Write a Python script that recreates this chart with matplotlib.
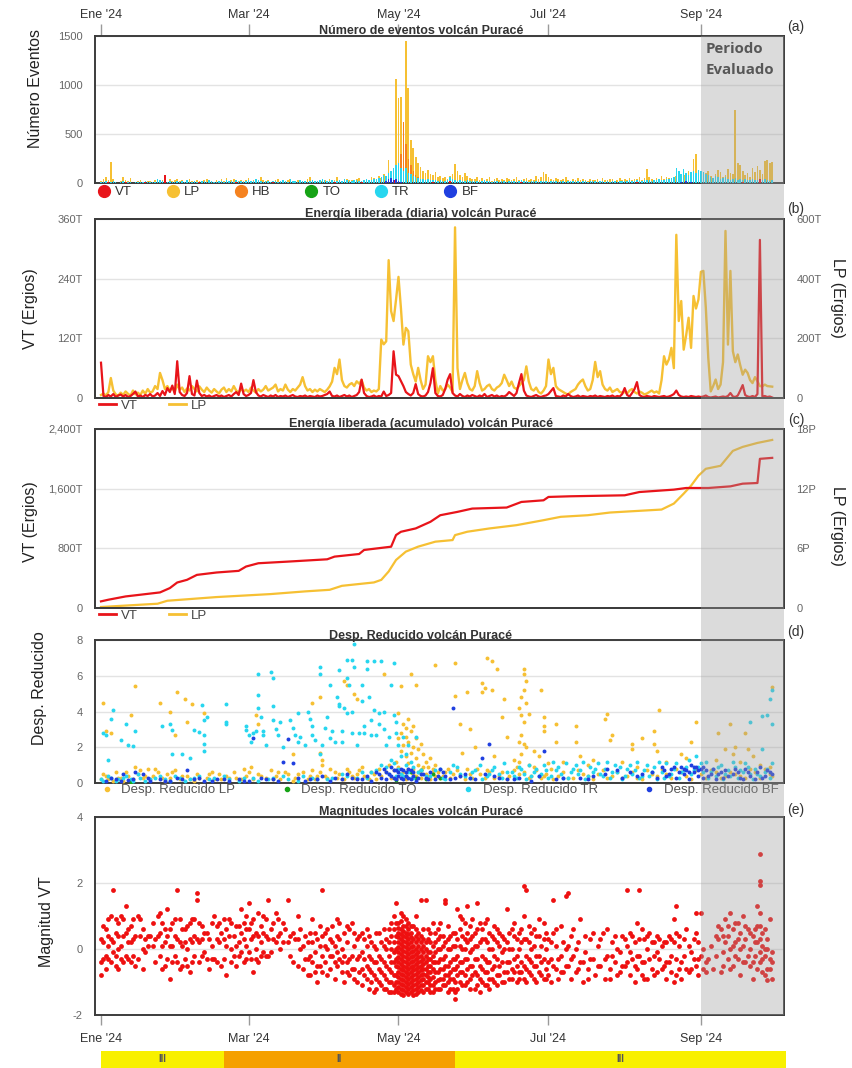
import matplotlib
matplotlib.use("Agg")
import matplotlib.pyplot as plt
from matplotlib.lines import Line2D
from matplotlib.patches import Rectangle
import numpy as np

plt.rcParams['font.family'] = ['Liberation Sans', 'DejaVu Sans']
NARROW = ['Liberation Sans Narrow', 'Liberation Sans', 'DejaVu Sans']

# ---------------------------------------------------------------- data
month_ticks = [0, 60, 121, 182, 244]          # day of year (Jan 1 = 0)
month_labels = ["Ene '24", "Mar '24", "May '24", "Jul '24", "Sep '24"]
period_start = 244                             # Sep 1 -> "Periodo Evaluado"

type_names = ['VT', 'LP', 'HB', 'TO', 'TR', 'BF']
type_colors = ['#e8141a', '#f6c033', '#f58220', '#16a316', '#27d6ef', '#1f3fe0']

# (a) daily event counts, Jan 1 .. Sep 30
lp_counts = [
    20, 45, 60, 30, 210, 40, 15, 10, 25, 60, 35, 20, 50, 15, 10, 20, 30, 15, 10, 25, 20, 15, 30, 10, 20, 35, 20, 15, 40, 25, 30,
    45, 20, 30, 15, 25, 40, 20, 10, 35, 20, 15, 30, 45, 20, 25, 15, 30, 20, 40, 25, 50, 20, 30, 45, 15, 25, 35, 20, 30,
    55, 25, 30, 40, 20, 60, 30, 25, 35, 15, 20, 30, 40, 25, 20, 15, 30, 45, 25, 20, 35, 30, 15, 25, 40, 60, 30, 20, 25, 35, 20,
    30, 25, 40, 20, 35, 60, 30, 25, 20, 45, 30, 35, 20, 40, 55, 25, 30, 45, 35, 60, 50, 40, 70, 55, 90, 60, 230, 100, 150, 1060,
    870, 880, 350, 1450, 970, 440, 360, 270, 200, 160, 120, 100, 130, 90, 80, 110, 60, 70, 50, 60, 45, 70, 90, 190, 120, 80, 60, 100, 70, 50, 40,
    40, 60, 35, 50, 30, 45, 60, 25, 40, 55, 30, 45, 35, 50, 40, 30, 45, 60, 35, 25, 40, 55, 30, 45, 35, 70, 40, 60, 110, 90,
    60, 45, 35, 50, 40, 30, 45, 60, 35, 25, 40, 30, 50, 35, 40, 30, 25, 45, 35, 30, 40, 25, 50, 35, 30, 45, 40, 25, 35, 50, 30,
    40, 35, 50, 30, 45, 40, 60, 35, 50, 140, 60, 45, 35, 50, 40, 70, 45, 60, 50, 40, 55, 70, 60, 50, 80, 100, 120, 90, 250, 300, 120,
    80, 60, 100, 120, 70, 50, 90, 130, 110, 60, 80, 140, 100, 90, 740, 200, 180, 120, 80, 100, 60, 150, 110, 170, 130, 90, 220, 230, 200, 210,
]
tr_counts = [
    10, 15, 20, 8, 12, 25, 10, 5, 15, 20, 10, 8, 12, 5, 10, 15, 8, 10, 20, 12, 10, 8, 15, 40, 30, 20, 15, 10, 20, 15, 10,
    25, 15, 20, 10, 30, 15, 12, 20, 10, 15, 25, 20, 15, 30, 20, 10, 15, 25, 20, 15, 30, 25, 20, 15, 35, 20, 25, 15, 20,
    30, 25, 20, 45, 30, 20, 15, 25, 20, 15, 20, 25, 15, 20, 30, 20, 15, 40, 25, 20, 15, 30, 20, 25, 15, 20, 35, 25, 20, 30, 40,
    30, 25, 20, 35, 25, 20, 30, 25, 40, 30, 20, 25, 35, 30, 20, 25, 30, 40, 35, 30, 45, 40, 50, 60, 80, 70, 100, 120, 150, 180,
    200, 150, 120, 150, 100, 90, 70, 60, 50, 45, 40, 35, 40, 30, 35, 30, 25, 30, 20, 25, 30, 60, 40, 30, 25, 30, 20, 25, 30, 20, 25,
    20, 25, 15, 20, 30, 25, 20, 15, 25, 20, 15, 20, 25, 15, 20, 25, 20, 15, 20, 30, 25, 20, 15, 20, 25, 20, 15, 20, 25, 20,
    15, 20, 25, 20, 15, 20, 25, 15, 20, 25, 20, 15, 20, 15, 25, 20, 15, 20, 25, 20, 15, 20, 25, 15, 20, 15, 25, 20, 15, 20, 25,
    20, 25, 30, 20, 25, 30, 25, 20, 30, 35, 30, 25, 30, 35, 40, 30, 35, 40, 45, 50, 60, 150, 120, 90, 140, 100, 80, 110, 120, 100, 130,
    120, 110, 90, 80, 60, 50, 70, 60, 40, 50, 60, 40, 30, 45, 50, 35, 40, 30, 45, 35, 30, 40, 35, 30, 40, 35, 45, 30, 25, 30,
]
hb_days = [120, 121, 122, 123, 124, 125, 126, 127, 128, 129, 130]
hb_counts = [60, 150, 300, 620, 400, 250, 180, 120, 80, 60, 40]
vt_days = [3, 10, 18, 26, 40, 55, 70, 95, 106, 119, 120, 121, 135, 142, 171, 218, 261, 268]
vt_counts = [8, 10, 6, 80, 12, 8, 6, 10, 15, 30, 25, 20, 15, 18, 12, 10, 12, 40]
bf_days = [116, 117, 118, 119, 120, 121, 122, 236, 238, 240]
bf_counts = [20, 45, 50, 35, 40, 25, 15, 15, 20, 15]

# (b) daily released energy (T ergios)
vt_energy = [
    71, 4, 2, 6, 3, 8, 2, 5, 7, 3, 6, 2, 4, 8, 13, 3, 5, 2, 6, 4, 8, 3, 5, 10, 4, 14, 6, 20, 12, 25, 8,
    74, 12, 6, 4, 10, 44, 8, 5, 35, 10, 4, 6, 3, 5, 2, 4, 6, 3, 5, 2, 4, 6, 3, 8, 12, 6, 29, 8, 4,
    6, 10, 36, 12, 5, 3, 6, 4, 2, 5, 3, 6, 2, 4, 3, 5, 2, 4, 6, 3, 2, 4, 3, 5, 2, 4, 3, 2, 5, 3, 4,
    6, 8, 13, 4, 3, 5, 2, 4, 6, 3, 5, 2, 4, 6, 12, 37, 10, 4, 2, 3, 5, 2, 4, 3, 13, 4, 6, 10, 94, 47,
    44, 34, 24, 12, 8, 5, 10, 28, 8, 4, 3, 5, 12, 30, 60, 10, 4, 3, 6, 18, 37, 48, 10, 5, 3, 8, 4, 2, 5, 3, 6,
    4, 2, 5, 3, 8, 2, 4, 6, 3, 5, 2, 4, 3, 6, 12, 8, 4, 10, 30, 48, 15, 5, 3, 2, 4, 6, 3, 2, 4, 5,
    8, 14, 20, 4, 3, 2, 5, 3, 8, 4, 2, 3, 5, 2, 4, 3, 2, 4, 3, 5, 2, 4, 3, 2, 4, 3, 5, 2, 4, 3, 8,
    20, 6, 3, 10, 18, 32, 6, 3, 2, 4, 3, 2, 4, 3, 2, 3, 4, 2, 3, 5, 8, 15, 6, 3, 2, 3, 2, 4, 3, 2, 3,
    2, 3, 5, 2, 1, 2, 3, 1, 2, 3, 2, 4, 10, 3, 2, 5, 15, 26, 6, 3, 2, 4, 2, 8, 318, 3, 4, 2, 3, 1,
]
lp_energy = [
    10, 15, 8, 20, 67, 25, 12, 8, 18, 10, 22, 14, 8, 25, 12, 18, 10, 25, 14, 30, 18, 22, 40, 30, 84, 60, 30, 40, 25, 35, 20,
    45, 28, 35, 20, 32, 25, 40, 30, 22, 39, 28, 20, 35, 25, 18, 30, 22, 15, 28, 35, 20, 30, 22, 40, 25, 18, 30, 22, 28,
    20, 35, 25, 18, 30, 22, 28, 40, 25, 30, 35, 45, 22, 30, 25, 45, 28, 20, 30, 25, 35, 45, 70, 40, 25, 30, 20, 28, 22, 30, 25,
    20, 28, 39, 55, 101, 80, 129, 60, 40, 35, 45, 50, 40, 56, 48, 60, 35, 25, 30, 20, 25, 22, 30, 196, 180, 190, 462, 291, 258, 330,
    406, 300, 179, 235, 224, 112, 80, 55, 101, 60, 30, 45, 140, 120, 140, 60, 15, 40, 25, 30, 45, 35, 20, 572, 100, 30, 60, 84, 50, 30, 25,
    40, 90, 50, 25, 30, 40, 45, 30, 25, 35, 40, 50, 78, 60, 40, 55, 35, 30, 40, 50, 60, 106, 55, 30, 25, 35, 20, 15, 25, 40,
    129, 80, 101, 40, 30, 25, 20, 15, 12, 20, 25, 30, 45, 55, 62, 40, 25, 30, 60, 121, 70, 90, 45, 30, 25, 35, 20, 25, 30, 20, 18,
    20, 15, 25, 30, 20, 15, 22, 18, 12, 15, 20, 25, 18, 22, 15, 60, 140, 112, 130, 168, 100, 547, 258, 325, 162, 210, 269, 168, 342, 300, 330,
    423, 426, 303, 135, 22, 40, 62, 30, 45, 120, 560, 179, 426, 157, 120, 146, 110, 78, 95, 84, 60, 50, 70, 56, 40, 39, 45, 40, 39, 38,
]

# (c) accumulated energy, read at break points
cum_vt_days = [0, 3, 10, 16, 24, 28, 31, 35, 39, 47, 56, 59, 64, 76, 92, 95, 105, 107, 118, 120,
               122, 128, 134, 138, 145, 151, 165, 171, 180, 182, 191, 213, 219, 233, 238, 247, 256, 261, 267, 268, 273]
cum_vt_T = [89, 111, 155, 178, 209, 267, 342, 378, 444, 476, 498, 556, 600, 622, 653, 689, 724, 778, 822, 978,
            1022, 1067, 1156, 1244, 1289, 1333, 1347, 1422, 1444, 1489, 1498, 1511, 1555, 1587, 1609, 1609, 1631, 1667, 1676, 2000, 2013]
cum_lp_days = [0, 23, 27, 47, 69, 83, 93, 98, 111, 114, 117, 120, 124, 129, 136, 143, 144, 149, 158, 169,
               180, 187, 198, 207, 216, 228, 233, 237, 240, 243, 246, 252, 257, 261, 267, 273]
cum_lp_P = [0.1, 0.43, 0.73, 1.1, 1.4, 1.67, 1.83, 2.23, 2.57, 2.83, 3.67, 4.83, 5.67, 6.17, 6.67, 6.83, 7.33, 7.67, 8.0, 8.33,
            8.83, 9.17, 9.33, 9.6, 9.73, 9.9, 10.5, 11.5, 12.3, 13.3, 14.0, 14.3, 15.8, 16.2, 16.6, 16.9]

# (d) reduced displacement (day, value)
dr_lp = [(1, 4.5), (2, 2.9), (4, 2.8), (12, 3.8), (14, 5.4), (24, 4.5), (28, 4.0), (31, 5.1), (34, 4.7), (35, 3.4),
         (30, 2.7), (37, 4.4), (42, 3.9), (44, 0.5), (52, 0.3), (0, 0.2), (2, 0.4), (5, 0.1), (8, 0.3), (10, 0.6),
         (14, 0.9), (16, 0.7), (18, 0.4), (20, 0.2), (22, 0.8), (25, 0.3), (27, 0.5), (29, 0.6), (32, 0.2), (35, 0.4),
         (38, 0.1), (40, 0.3), (46, 0.2), (48, 0.5), (55, 0.3), (58, 0.8), (60, 0.6), (62, 0.2), (63, 3.8), (64, 3.3),
         (86, 4.45), (89, 4.8), (103, 5.0), (104, 4.7), (115, 6.1), (126, 6.1), (128, 5.5), (122, 5.4), (99, 5.7), (100, 5.5),
         (89, 1.7), (90, 1.3), (78, 1.65), (75, 0.6), (65, 0.4), (70, 0.2), (72, 0.6), (78, 0.1), (80, 0.5), (84, 0.2),
         (86, 0.7), (88, 0.4), (90, 1.0), (92, 0.3), (95, 0.6), (98, 0.2), (100, 0.8), (102, 0.4), (104, 0.5), (106, 0.9),
         (108, 0.3), (110, 0.6), (112, 0.2), (114, 0.4), (120, 1.2), (121, 2.5), (121, 3.9), (122, 2.8), (122, 1.8), (123, 3.3),
         (123, 2.1), (124, 3.1), (124, 1.5), (124, 2.6), (125, 3.6), (125, 2.3), (125, 1.1), (126, 2.9), (126, 1.7), (127, 3.2),
         (127, 2.0), (127, 0.8), (128, 2.5), (128, 1.4), (129, 1.9), (129, 1.0), (130, 2.2), (130, 0.7), (131, 1.6), (132, 1.2),
         (133, 0.9), (134, 1.4), (135, 0.6), (136, 1.0), (120, 0.3), (122, 0.5), (124, 0.2), (126, 0.6), (128, 0.4), (130, 0.3),
         (132, 0.5), (134, 0.2), (136, 0.4), (138, 0.3), (140, 0.6), (136, 6.6), (144, 6.7), (157, 7.0), (159, 6.8), (161, 6.4),
         (156, 5.3), (155, 5.6), (155, 5.1), (159, 5.2), (149, 5.1), (144, 4.85), (164, 4.7), (179, 5.2), (172, 6.4), (172, 6.1),
         (173, 5.7), (172, 5.2), (171, 4.8), (173, 4.5), (170, 4.2), (171, 3.8), (174, 3.85), (172, 3.4), (171, 2.7), (170, 2.3),
         (172, 2.2), (173, 2.0), (171, 1.6), (170, 1.2), (174, 1.0), (180, 3.7), (180, 3.2), (180, 2.9), (185, 3.3), (185, 2.3),
         (193, 3.2), (193, 2.3), (206, 3.85), (205, 3.6), (208, 2.7), (207, 2.4), (216, 2.2), (216, 1.9), (220, 2.5), (227, 4.1),
         (225, 2.9), (225, 2.2), (226, 1.8), (242, 3.4), (240, 2.3), (236, 1.6), (238, 1.4), (146, 3.3), (150, 3.0), (152, 2.0),
         (147, 1.7), (160, 1.5), (163, 3.7), (165, 2.6), (168, 1.3), (176, 1.8), (178, 1.5), (182, 1.1), (188, 1.2), (195, 1.5),
         (198, 1.0), (200, 1.3), (212, 1.2), (218, 0.9), (230, 1.2), (251, 2.8), (256, 3.3), (254, 1.9), (258, 2.0), (262, 2.8),
         (263, 1.9), (265, 1.5), (250, 1.3), (257, 1.6), (260, 1.2), (273, 5.35), (272, 0.9), (268, 1.0), (142, 0.3), (145, 0.7),
         (148, 0.2), (150, 0.5), (153, 0.8), (156, 0.3), (158, 0.6), (162, 0.4), (165, 0.2), (168, 0.7), (170, 0.5), (174, 0.3),
         (176, 0.9), (180, 0.4), (184, 0.2), (188, 0.6), (192, 0.3), (196, 0.5), (200, 0.2), (204, 0.7), (208, 0.4), (212, 0.3),
         (216, 0.6), (220, 0.2), (224, 0.5), (228, 0.8), (232, 0.3), (236, 0.6), (240, 0.2), (244, 0.5), (248, 0.7), (252, 0.3),
         (256, 0.6), (260, 0.4), (264, 0.8), (268, 0.3), (272, 0.5)]
dr_lp_base = [(1, 0.5), (3, 0.2), (6, 0.6), (7, 0.3), (9, 0.1), (11, 0.4), (13, 0.2), (15, 0.5), (17, 0.3), (19, 0.8),
              (21, 0.4), (23, 0.6), (26, 0.1), (28, 0.3), (30, 0.7), (33, 0.4), (36, 0.2), (39, 0.5), (43, 0.3), (45, 0.6),
              (49, 0.2), (51, 0.4), (54, 0.6), (57, 0.2), (59, 0.4), (61, 0.9), (64, 0.5), (67, 0.3), (69, 0.7), (71, 0.4),
              (73, 0.2), (76, 0.5), (79, 0.3), (82, 0.6), (85, 0.4), (87, 0.2), (89, 0.6), (91, 0.4), (93, 0.8), (96, 0.3),
              (97, 0.5), (99, 0.2), (101, 0.6), (103, 0.3), (105, 0.7), (107, 0.4), (109, 0.2), (111, 0.5), (113, 0.8), (116, 0.6),
              (117, 1.0), (118, 0.3), (119, 0.7), (121, 0.9), (123, 0.6), (125, 0.8), (127, 0.5), (129, 0.6), (131, 0.9), (133, 0.4),
              (135, 0.8), (137, 0.6), (139, 0.4), (141, 0.8), (143, 0.5), (146, 0.4), (149, 0.8), (151, 0.3), (154, 0.5), (157, 0.7),
              (160, 0.3), (163, 0.6), (166, 0.4), (169, 0.9), (172, 0.6), (175, 0.4), (177, 0.7), (179, 0.3), (181, 0.5), (183, 0.8),
              (186, 0.4), (190, 0.3), (194, 0.7), (198, 0.4), (202, 0.5), (206, 0.3), (210, 0.6), (214, 0.4), (218, 0.3), (222, 0.7),
              (226, 0.4), (230, 0.5), (234, 0.8), (238, 0.4), (242, 0.7), (246, 0.3), (250, 0.6), (254, 0.4), (258, 0.5), (262, 0.3),
              (266, 0.6), (270, 0.8), (273, 0.4)]
dr_to = [(12, 0.05), (120, 0.15), (124, 0.4), (126, 0.6), (128, 0.3), (130, 0.7), (132, 0.2), (135, 0.5), (138, 0.3)]
dr_tr = [(1, 2.8), (2, 2.7), (3, 1.3), (4, 3.6), (5, 4.1), (8, 2.4), (10, 3.3), (11, 2.1), (13, 2.05), (14, 2.9),
         (25, 3.2), (28, 3.3), (29, 2.95), (29, 1.6), (33, 1.6), (36, 1.4), (38, 2.95), (40, 2.85), (41, 4.35), (42, 2.7),
         (42, 2.2), (42, 1.8), (42, 3.5), (43, 3.7), (51, 4.4), (51, 3.4), (51, 3.3), (59, 3.2), (59, 2.95), (60, 2.7),
         (61, 2.3), (62, 2.8), (63, 2.9), (64, 6.1), (64, 4.9), (64, 4.2), (65, 3.7), (66, 2.9), (66, 2.7), (67, 2.1),
         (69, 6.2), (70, 5.85), (70, 4.3), (70, 3.5), (71, 3.0), (72, 2.7), (73, 3.4), (74, 2.0), (77, 3.5), (78, 3.1),
         (79, 2.7), (80, 2.3), (80, 3.9), (81, 2.6), (83, 2.1), (84, 4.0), (85, 3.6), (86, 3.2), (86, 2.7), (87, 2.4),
         (89, 6.5), (89, 6.1), (89, 1.6), (90, 2.1), (91, 3.1), (92, 3.7), (93, 2.5), (93, 5.5), (94, 2.9), (95, 2.3),
         (96, 4.8), (97, 4.4), (97, 4.3), (98, 2.9), (97, 6.3), (98, 2.3), (99, 4.2), (100, 5.9), (100, 3.9), (100, 6.9),
         (101, 5.5), (102, 4.0), (102, 2.8), (102, 6.9), (103, 6.5), (103, 7.8), (104, 2.1), (105, 2.8), (106, 5.5), (106, 4.6),
         (107, 2.8), (107, 3.2), (108, 6.8), (108, 6.4), (109, 4.8), (110, 2.7), (110, 3.5), (111, 4.1), (111, 6.8), (112, 2.7),
         (113, 3.9), (113, 3.3), (114, 6.8), (115, 3.0), (115, 4.0), (116, 2.1), (117, 2.6), (118, 5.5), (119, 6.7), (119, 3.8),
         (120, 3.4), (120, 2.8), (121, 2.1), (122, 1.5), (123, 2.6), (124, 1.6), (125, 2.1), (126, 1.2), (127, 0.9), (128, 2.6),
         (0, 0.2), (3, 0.4), (6, 0.1), (9, 0.3), (12, 0.2), (15, 0.5), (18, 0.1), (22, 0.3), (26, 0.2), (30, 0.4),
         (34, 0.1), (38, 0.3), (44, 0.2), (50, 0.4), (56, 0.1), (62, 0.3), (68, 0.2), (74, 0.4), (80, 0.1), (86, 0.3),
         (92, 0.2), (98, 0.5), (104, 0.3), (110, 0.6), (116, 0.9), (118, 1.3), (122, 0.5), (126, 0.3), (130, 0.7), (134, 0.4),
         (138, 0.8), (140, 0.2), (143, 1.0), (146, 0.5), (150, 0.3), (152, 0.7), (155, 0.2), (158, 0.5), (160, 0.9), (163, 0.3),
         (165, 0.6), (168, 0.4), (171, 0.8), (173, 0.2), (176, 0.6), (178, 0.4), (180, 1.0), (182, 0.3), (184, 1.2), (185, 0.7),
         (187, 0.5), (189, 1.1), (190, 0.3), (192, 0.8), (194, 0.5), (196, 1.2), (197, 0.2), (199, 0.9), (200, 0.6), (202, 1.1),
         (204, 0.4), (205, 0.8), (207, 0.3), (209, 1.0), (210, 0.6), (212, 0.2), (214, 0.8), (216, 0.5), (218, 1.2), (219, 0.3),
         (221, 0.7), (223, 0.4), (225, 0.9), (226, 0.2), (228, 0.6), (230, 1.1), (231, 0.4), (233, 0.8), (235, 0.3), (237, 0.7),
         (239, 1.3), (240, 0.5), (242, 1.5), (243, 0.9), (245, 0.6), (246, 1.2), (247, 0.3), (249, 0.8), (250, 0.4), (252, 1.0),
         (253, 0.2), (255, 0.7), (256, 0.4), (258, 0.9), (259, 0.3), (261, 0.6), (262, 1.1), (264, 0.5), (265, 0.2), (266, 0.8),
         (268, 0.4), (269, 1.9), (270, 0.6), (271, 3.8), (272, 0.3), (272, 4.7), (273, 5.2), (273, 3.3), (273, 1.1), (264, 3.4),
         (269, 3.75)]
dr_tr_base = [(1, 0.1), (4, 0.3), (7, 0.2), (10, 0.4), (13, 0.1), (16, 0.3), (20, 0.2), (24, 0.4), (28, 0.1), (32, 0.3),
              (36, 0.2), (40, 0.4), (46, 0.3), (52, 0.2), (58, 0.3), (64, 0.1), (70, 0.3), (76, 0.2), (82, 0.4), (88, 0.2),
              (94, 0.3), (100, 0.4), (106, 0.6), (108, 0.3), (112, 0.7), (114, 1.0), (117, 0.5), (119, 1.1), (120, 0.4), (121, 0.8),
              (123, 0.4), (124, 1.0), (125, 0.6), (127, 0.3), (129, 0.6), (132, 0.4), (136, 0.7), (139, 0.3), (142, 0.6), (145, 0.9),
              (148, 0.4), (151, 0.6), (154, 1.0), (157, 0.4), (159, 0.7), (162, 0.5), (164, 1.1), (167, 0.6), (169, 0.3), (170, 0.9),
              (172, 0.5), (174, 1.0), (175, 0.4), (177, 0.8), (179, 0.5), (181, 0.7), (183, 0.4), (186, 0.9), (188, 0.3), (191, 0.6),
              (193, 1.0), (195, 0.7), (198, 0.4), (201, 0.8), (203, 0.5), (206, 1.2), (208, 0.6), (211, 0.9), (213, 0.4), (215, 1.0),
              (217, 0.7), (220, 0.4), (222, 1.0), (224, 0.6), (227, 1.2), (229, 0.3), (232, 0.5), (234, 1.1), (236, 0.6), (238, 0.9),
              (241, 0.7), (244, 1.1), (248, 0.6), (251, 0.9), (254, 0.5), (257, 1.2), (260, 0.7), (263, 0.9), (267, 0.5), (271, 0.8)]
dr_bf = [(2, 0.1), (6, 0.2), (9, 0.5), (11, 0.15), (14, 0.6), (17, 0.5), (20, 0.1), (24, 0.2), (28, 0.1), (31, 0.3),
         (35, 0.7), (38, 0.2), (42, 0.1), (47, 0.2), (52, 0.1), (56, 0.2), (60, 0.1), (62, 2.5), (65, 0.3), (70, 0.2),
         (74, 1.15), (76, 2.45), (78, 1.1), (80, 0.3), (85, 0.2), (90, 0.4), (95, 0.3), (100, 0.5), (104, 0.2), (108, 0.4),
         (110, 0.1), (112, 0.6), (114, 0.3), (115, 0.8), (116, 0.2), (117, 0.5), (118, 0.9), (119, 0.3), (120, 0.7), (121, 0.4),
         (122, 0.8), (123, 0.2), (124, 0.6), (125, 0.3), (126, 0.7), (127, 0.4), (128, 0.1), (130, 0.5), (132, 0.3), (134, 0.6),
         (136, 0.2), (138, 0.8), (140, 0.4), (143, 4.2), (144, 0.3), (148, 0.5), (152, 0.2), (155, 1.4), (158, 2.2), (160, 0.4),
         (165, 0.2), (170, 0.3), (175, 0.1), (180, 1.8), (185, 0.2), (195, 0.3), (200, 0.4), (206, 0.8), (210, 0.7), (215, 0.6),
         (220, 0.5), (228, 0.9), (230, 0.4), (232, 0.8), (234, 0.3), (236, 0.9), (237, 0.5), (238, 0.7), (239, 0.2), (240, 1.0),
         (241, 0.6), (242, 0.9), (243, 0.4), (244, 0.8), (245, 0.3), (246, 0.7), (248, 0.5), (250, 0.2), (252, 0.6), (255, 0.4),
         (258, 0.8), (260, 0.3), (263, 0.6), (266, 0.2), (268, 0.9), (270, 0.4), (272, 0.6)]
dr_bf_base = [(4, 0.3), (8, 0.1), (13, 0.2), (19, 0.3), (26, 0.1), (33, 0.2), (40, 0.3), (45, 0.1), (50, 0.2), (58, 0.1),
              (67, 0.2), (72, 0.1), (83, 0.1), (88, 0.2), (93, 0.1), (98, 0.2), (102, 0.3), (106, 0.2), (113, 0.5), (116, 0.6),
              (118, 0.4), (119, 0.7), (120, 0.2), (121, 0.6), (122, 0.3), (123, 0.7), (124, 0.4), (125, 0.8), (126, 0.2), (127, 0.6),
              (129, 0.3), (131, 0.5), (133, 0.2), (137, 0.4), (139, 0.6), (142, 0.2), (146, 0.4), (150, 0.3), (156, 0.5), (162, 0.3),
              (168, 0.2), (178, 0.4), (188, 0.3), (198, 0.2), (205, 0.5), (212, 0.3), (218, 0.4), (224, 0.6), (226, 0.3), (229, 0.7),
              (231, 0.5), (233, 0.9), (235, 0.6), (237, 0.8), (239, 0.6), (241, 0.9), (243, 0.7), (245, 0.9), (247, 0.4), (249, 0.8),
              (251, 0.5), (253, 0.3), (254, 0.7), (257, 0.5), (259, 0.6), (261, 0.2), (262, 0.8), (264, 0.4), (267, 0.6), (269, 0.3),
              (271, 0.7), (273, 0.5)]

# (e) local magnitudes of VT events (day, ML)
mag_jan = [(0, -0.8), (1, 0.2), (1, -0.3), (2, 0.6), (2, -0.2), (3, 0.9), (3, 0.1), (4, -0.4), (4, 0.3), (5, 1.8),
           (5, -0.1), (6, 0.5), (6, -0.5), (7, 0.0), (7, 0.8), (8, 1.0), (8, -0.3), (9, 0.4), (10, -0.2), (10, 1.3),
           (11, 0.2), (12, -0.4), (12, 0.7), (13, 0.3), (14, -0.5), (15, 1.0), (16, 0.4), (17, 0.0), (18, 0.3), (19, 0.4),
           (21, 0.8), (22, 0.3), (23, 1.0), (24, -0.2), (24, 0.5), (25, 0.8), (26, -0.5), (26, 0.2), (27, 1.2), (27, -0.3),
           (28, -0.9), (28, 0.6), (29, 0.1), (29, -0.4), (30, 0.4),
           (0, 0.3), (0, -0.4), (1, 0.7), (2, -0.6), (3, 0.4), (3, -0.3), (4, 1.0), (5, 0.2), (6, 0.9), (6, -0.2),
           (7, -0.6), (7, 0.4), (8, 0.1), (9, -0.4), (9, 0.9), (10, 0.5), (11, -0.3), (11, 0.6), (12, 0.2), (13, -0.2),
           (13, 0.9), (14, 0.4), (15, -0.3), (16, 0.9), (17, -0.6), (17, 0.6), (18, -0.1), (19, 0.1), (20, 0.4), (21, 0.1),
           (22, -0.4), (23, 0.4), (24, 1.1), (25, 0.1), (25, -0.6), (26, 0.6), (27, 0.4), (28, 0.1), (29, 0.8), (30, -0.2), (30, 0.9)]
mag_feb = [(31, 1.8), (31, 0.3), (32, -0.6), (32, 0.9), (33, 0.1), (34, -0.3), (34, 0.6), (35, 0.0), (36, -0.7), (36, 0.3),
           (37, 0.9), (38, -0.2), (38, 0.4), (39, 1.7), (39, 1.5), (40, -0.4), (40, 0.2), (41, 0.7), (42, -0.1), (43, 0.5),
           (44, -0.6), (45, 0.1), (46, 1.0), (46, -0.3), (47, 0.3), (48, 0.8), (49, -0.5), (50, 0.3), (51, -0.8), (51, 0.6),
           (52, 0.9), (53, 0.0), (53, -0.4), (54, 0.4), (55, 0.7), (56, -0.2), (56, 0.2), (57, 1.2), (57, 0.5), (58, -0.4),
           (58, 0.8), (59, 0.1), (59, 1.0),
           (31, -0.4), (32, 0.2), (33, -0.5), (33, 0.6), (34, 0.2), (35, 0.7), (35, -0.5), (36, 0.8), (37, 0.2), (37, -0.4),
           (38, 0.9), (39, 0.3), (40, 0.8), (41, -0.2), (41, 0.3), (42, 0.5), (43, -0.3), (44, 0.3), (45, 0.8), (45, -0.3),
           (47, -0.4), (47, 0.7), (48, 0.2), (49, 0.5), (50, -0.3), (50, 0.9), (51, 0.1), (52, 0.4), (53, 0.8), (54, -0.2),
           (55, 0.1), (55, -0.5), (56, 0.7), (57, -0.1), (58, 0.3), (59, -0.3), (59, 0.6)]
mag_mar = [(60, 1.4), (60, 0.6), (61, -0.3), (61, 0.3), (62, 0.9), (62, -0.7), (63, 0.5), (63, 0.0), (64, 1.1), (64, -0.4),
           (65, 0.7), (65, 0.2), (66, -0.1), (66, 1.0), (67, 0.4), (68, 1.5), (68, -0.2), (69, 0.6), (70, 0.3), (71, 1.1),
           (72, 0.4), (73, 0.0), (74, 0.8), (76, 1.5), (76, 0.2), (77, -0.2), (78, 0.5), (80, 1.0), (80, -0.5), (81, 0.6),
           (82, 0.1), (82, -0.6), (83, -0.3), (84, 0.2), (84, -0.8), (85, 0.5), (86, -0.4), (86, 0.9), (87, -0.1), (87, -0.7),
           (88, 0.3), (88, -1.0), (89, -0.5), (89, 0.7), (90, 1.8), (90, -0.2),
           (60, -0.1), (61, 0.8), (62, 0.4), (63, -0.3), (64, 0.4), (65, -0.2), (66, 0.5), (67, 0.9), (67, -0.2), (68, 0.3),
           (69, -0.1), (70, 0.8), (71, 0.2), (72, 0.9), (73, 0.5), (74, 0.2), (75, 0.6), (77, 0.4), (78, -0.4), (79, 0.3),
           (80, 0.3), (81, 0.0), (83, 0.4), (84, -0.3), (85, -0.2), (85, -0.8), (86, 0.2), (87, 0.5), (88, -0.5), (89, 0.1),
           (90, 0.4), (90, -0.7)]
mag_apr = [(91, -0.4), (91, 0.5), (92, 0.0), (92, -0.8), (93, 0.3), (93, -0.6), (94, 0.7), (94, -0.2), (95, -0.9), (95, 0.1),
           (96, -0.5), (96, 0.4), (97, 0.8), (97, -0.3), (98, -0.7), (98, 0.0), (99, 0.5), (99, -1.0), (100, -0.4), (100, 0.2),
           (101, -0.8), (101, 0.6), (102, -0.2), (102, 0.8), (103, -0.6), (103, 0.1), (104, -1.0), (104, -0.3), (105, 0.4), (105, -0.7),
           (106, -1.1), (106, -0.1), (107, 0.3), (107, -0.8), (108, -0.5), (108, 0.6), (109, -1.2), (109, -0.2), (110, -0.7), (110, 0.2),
           (111, -1.3), (111, -0.4), (112, -0.9), (112, 0.0), (113, -0.6), (113, 0.5), (114, -1.1), (114, -0.3), (115, -0.8), (115, 0.1),
           (116, -1.2), (116, -0.5), (116, 0.3), (117, -1.0), (117, -0.2), (117, 0.6), (118, -1.3), (118, -0.7), (118, 0.0), (118, 0.8),
           (119, -1.1), (119, -0.4), (119, 0.2), (119, 1.0), (120, -1.2), (120, -0.8), (120, -0.3), (120, 0.4), (120, 1.4),
           (91, 0.1), (92, 0.6), (93, -0.2), (94, 0.2), (95, -0.4), (96, 0.9), (96, -0.1), (97, 0.3), (98, -0.4), (99, -0.2),
           (100, -0.7), (100, 0.7), (101, -0.3), (102, -0.6), (103, 0.5), (103, -0.9), (104, 0.3), (105, -0.2), (106, -0.6), (106, 0.5),
           (107, -0.3), (108, -0.9), (108, 0.1), (109, -0.6), (109, 0.4), (110, -1.0), (110, -0.3), (111, -0.8), (111, 0.1), (112, -1.2),
           (112, -0.4), (112, 0.5), (113, -1.0), (113, -0.2), (114, -0.7), (114, 0.2), (115, -1.2), (115, -0.4), (115, 0.6), (116, -0.9),
           (116, 0.0), (117, -1.3), (117, -0.6), (117, 0.2), (118, -1.0), (118, -0.4), (118, 0.4), (119, -1.3), (119, -0.8), (119, -0.1),
           (119, 0.6), (120, -1.0), (120, -0.5), (120, 0.0), (120, 0.8)]
mag_may = [(121, -1.3), (121, -1.0), (121, -0.7), (121, -0.4), (121, -0.1), (121, 0.2), (121, 0.5), (121, 0.8),
           (122, -1.2), (122, -0.9), (122, -0.6), (122, -0.3), (122, 0.0), (122, 0.3), (122, 0.6), (122, 1.1),
           (123, -1.4), (123, -1.1), (123, -0.8), (123, -0.5), (123, -0.2), (123, 0.1), (123, 0.4), (123, 0.7),
           (124, -1.3), (124, -1.0), (124, -0.7), (124, -0.4), (124, -0.1), (124, 0.2), (124, 0.5), (124, 0.9),
           (125, -1.2), (125, -0.9), (125, -0.6), (125, -0.3), (125, 0.0), (125, 0.3), (125, 0.6),
           (126, -1.3), (126, -1.0), (126, -0.7), (126, -0.4), (126, -0.1), (126, 0.2), (126, 0.5),
           (127, -1.4), (127, -1.1), (127, -0.8), (127, -0.5), (127, -0.2), (127, 0.1), (127, 0.7),
           (128, -1.2), (128, -0.9), (128, -0.6), (128, -0.3), (128, 0.0), (128, 0.4), (128, 1.0),
           (129, -1.3), (129, -1.0), (129, -0.7), (129, -0.4), (129, -0.1), (129, 0.3),
           (130, -1.1), (130, -0.8), (130, -0.5), (130, -0.2), (130, 0.2), (130, 1.5),
           (131, -1.3), (131, -0.9), (131, -0.6), (131, -0.3), (131, 0.1), (131, 0.6),
           (132, -1.2), (132, -0.8), (132, -0.4), (132, 0.0), (132, 1.5),
           (133, -1.0), (133, -0.7), (133, -0.3), (133, 0.3),
           (134, -1.3), (134, -0.9), (134, -0.5), (134, -0.1), (134, 0.5),
           (135, -1.1), (135, -0.6), (135, -0.2), (135, 0.8), (136, -1.0), (136, -0.4), (136, 0.2),
           (137, -1.2), (137, -0.7), (137, 0.0), (137, 0.6), (138, -0.9), (138, -0.3), (138, 0.4),
           (139, -1.1), (139, -0.6), (139, 0.1), (140, -0.8), (140, -0.2), (140, 1.5), (140, 1.4),
           (141, -1.0), (141, -0.5), (141, 0.3), (142, -1.2), (142, -0.7), (142, 0.0),
           (143, -0.9), (143, -0.3), (143, 0.5), (144, -1.5), (144, -1.3), (144, -0.6), (144, 0.1),
           (145, -0.8), (145, -0.2), (145, 1.2), (146, -1.0), (146, -0.4), (146, 0.6),
           (147, -0.7), (147, 0.0), (147, 0.9), (148, -1.1), (148, -0.3), (148, 0.3),
           (149, -0.6), (149, 0.2), (149, 1.3), (150, -0.9), (150, -0.1), (150, 0.7), (151, -0.5), (151, 0.4),
           (121, -1.15), (121, -0.85), (121, -0.55), (121, -0.25), (121, 0.05), (121, 0.35), (121, 0.65),
           (122, -1.35), (122, -1.05), (122, -0.75), (122, -0.45), (122, -0.15), (122, 0.15), (122, 0.45), (122, 0.85),
           (123, -1.25), (123, -0.95), (123, -0.65), (123, -0.35), (123, -0.05), (123, 0.25), (123, 0.55), (123, 1.0),
           (124, -1.15), (124, -0.85), (124, -0.55), (124, -0.25), (124, 0.05), (124, 0.35), (124, 0.7),
           (125, -1.35), (125, -1.05), (125, -0.75), (125, -0.45), (125, -0.15), (125, 0.15), (125, 0.45), (125, 0.8),
           (126, -1.15), (126, -0.85), (126, -0.55), (126, -0.25), (126, 0.05), (126, 0.35), (126, 0.7),
           (127, -1.25), (127, -0.95), (127, -0.65), (127, -0.35), (127, -0.05), (127, 0.3),
           (128, -1.35), (128, -1.05), (128, -0.75), (128, -0.45), (128, -0.15), (128, 0.2), (128, 0.6),
           (129, -1.15), (129, -0.85), (129, -0.55), (129, -0.25), (129, 0.1), (129, 0.5),
           (130, -1.25), (130, -0.95), (130, -0.65), (130, -0.35), (130, 0.0), (130, 0.4),
           (131, -1.1), (131, -0.75), (131, -0.45), (131, -0.1), (131, 0.3),
           (132, -1.0), (132, -0.6), (132, -0.2), (132, 0.2),
           (133, -1.2), (133, -0.85), (133, -0.5), (133, -0.1), (133, 0.6),
           (134, -1.1), (134, -0.7), (134, -0.3), (134, 0.2), (135, -1.3), (135, -0.85), (135, -0.4), (135, 0.1),
           (136, -1.2), (136, -0.7), (136, -0.1), (136, 0.5), (137, -0.95), (137, -0.4), (137, 0.3),
           (138, -1.2), (138, -0.6), (138, 0.0), (138, 0.8), (139, -0.9), (139, -0.3), (139, 0.4),
           (140, -1.1), (140, -0.5), (140, 0.2), (141, -1.3), (141, -0.8), (141, 0.0), (141, 0.7),
           (142, -0.9), (142, -0.4), (142, 0.4), (143, -1.2), (143, -0.6), (143, 0.1),
           (144, -1.0), (144, -0.3), (144, 0.5), (145, -1.2), (145, -0.5), (145, 0.3),
           (146, -0.7), (146, 0.1), (146, 1.0), (147, -1.1), (147, -0.4), (147, 0.4),
           (148, -0.8), (148, 0.0), (148, 0.8), (149, -1.0), (149, -0.3), (149, 0.5),
           (150, -1.2), (150, -0.5), (150, 0.3), (151, -0.8), (151, 0.0), (151, 0.9)]
mag_jun = [(152, -1.2), (152, -0.3), (152, 0.5), (153, -0.8), (153, 0.1), (153, 1.4), (154, -1.3), (154, -0.5), (154, 0.8), (155, -1.0),
           (155, -0.2), (155, 0.6), (156, -0.7), (156, 0.3), (157, -1.1), (157, -0.4), (157, 0.9), (158, -0.9), (158, 0.0), (159, -0.6),
           (159, 0.4), (160, -1.0), (160, -0.2), (160, 0.7), (161, -0.8), (161, 0.2), (162, -0.5), (162, 0.5), (163, -1.0), (163, -0.1),
           (164, -0.7), (164, 0.3), (165, -0.4), (165, 1.2), (166, -0.9), (166, 0.0), (167, -0.6), (167, 0.6), (168, -0.3), (168, 0.4),
           (169, -1.0), (169, -0.2), (170, -0.7), (170, 0.5), (171, -0.4), (171, 0.2), (172, -0.9), (172, 1.0), (172, 1.9), (173, -0.6),
           (173, 0.3), (173, 1.8), (174, -0.3), (174, 0.7), (175, -0.8), (175, 0.0), (176, -0.5), (176, 0.6), (177, -1.0), (177, -0.2),
           (178, -0.7), (178, 0.4), (179, -0.4), (179, 0.1), (180, -0.9), (180, 0.8), (181, -0.6), (181, 0.0),
           (152, -0.7), (152, 0.1), (153, -1.1), (153, -0.3), (153, 0.6), (154, -0.9), (154, 0.2), (155, -0.6), (155, 0.3), (156, -1.1),
           (156, -0.3), (156, 0.8), (157, -0.7), (157, 0.2), (158, -1.2), (158, -0.4), (158, 0.5), (159, -0.9), (159, 0.0), (160, -0.5),
           (160, 0.3), (161, -1.1), (161, -0.3), (161, 0.6), (162, -0.8), (162, 0.1), (163, -0.4), (163, 0.4), (164, -1.0), (164, 0.0),
           (165, -0.7), (165, 0.2), (166, -0.4), (166, 0.5), (167, -0.9), (167, 0.0), (168, -0.7), (168, 0.8), (169, -0.5), (169, 0.3),
           (170, -0.9), (170, 0.0), (171, -0.7), (171, 0.6), (172, -0.5), (172, 0.3), (173, -1.0), (173, -0.2), (174, -0.7), (174, 0.2),
           (175, -0.4), (175, 0.5), (176, -0.9), (176, 0.1), (177, -0.5), (177, 0.4), (178, -0.2), (178, 0.9), (179, -0.8), (180, -0.3),
           (180, 0.3), (181, -0.9), (181, 0.5)]
mag_jul = [(182, -0.8), (182, 0.3), (183, -1.0), (183, -0.3), (184, 0.5), (184, 1.5), (185, -0.6), (185, 0.1), (186, -0.9), (187, -0.2),
           (187, 0.7), (188, -0.7), (189, 0.0), (189, 1.6), (190, -0.5), (190, 1.7), (191, -0.9), (191, 0.4), (192, -0.2), (193, -0.7),
           (194, 0.2), (195, -0.4), (195, 0.9), (196, -1.0), (197, -0.1), (198, -0.6), (199, 0.3), (200, -0.3), (201, -0.8), (202, 0.1),
           (203, -0.5), (204, 0.5), (205, -0.9), (206, -0.2), (207, -0.6), (208, 0.2), (209, -0.4), (210, 0.0), (211, -0.7), (212, 0.4),
           (182, -0.4), (183, 0.2), (184, -0.5), (185, 0.6), (186, -0.3), (187, -0.7), (188, 0.2), (189, -0.5), (190, 0.1), (191, -0.3),
           (192, 0.6), (193, 0.0), (194, -0.6), (196, -0.4), (197, 0.4), (198, -0.9), (199, -0.3), (200, 0.5), (202, -0.5), (203, 0.3),
           (205, -0.3), (206, 0.6), (207, -0.9), (208, -0.2), (209, 0.4), (210, -0.8), (211, -0.1), (212, -0.5)]
mag_aug = [(213, -0.5), (214, 1.8), (214, 0.1), (215, -0.8), (215, 0.5), (216, -0.3), (217, -1.0), (217, 0.2), (218, -0.6), (218, 0.8),
           (219, 1.8), (219, -0.2), (220, 0.6), (220, -0.8), (221, -0.4), (221, 0.3), (222, -0.9), (222, 0.0), (223, 0.5), (224, -0.6),
           (225, -0.2), (225, 0.2), (226, -0.7), (226, 0.4), (227, -0.3), (228, 0.1), (229, -0.5), (230, -0.9), (230, 0.2), (231, -0.4),
           (232, -0.7), (232, 0.3), (233, 0.9), (233, -1.0), (234, -0.3), (234, 1.3), (234, 0.5), (235, -0.6), (235, 0.1), (236, -0.9),
           (237, -0.2), (238, 0.6), (239, -0.7), (240, -0.1), (241, 0.3), (242, -0.5), (242, 0.5), (243, -0.8), (243, -0.3),
           (213, 0.3), (214, -0.4), (215, -0.1), (216, 0.4), (217, -0.5), (218, -0.2), (219, 0.3), (220, -0.4), (221, -0.9), (222, 0.4),
           (223, -0.3), (224, 0.2), (225, -0.8), (226, -0.1), (227, 0.3), (228, -0.6), (229, 0.2), (230, -0.4), (231, 0.4), (232, -0.2),
           (233, 0.2), (234, -0.8), (235, 0.4), (236, -0.4), (237, 0.3), (238, -0.6), (239, 0.1), (240, -0.6), (241, -0.3), (242, 1.1),
           (243, 0.2)]
mag_sep = [(244, 1.1), (244, -0.2), (245, -0.6), (245, 0.0), (246, -0.7), (246, -0.4), (248, 0.1), (249, -0.6), (250, -0.2), (251, 0.7),
           (251, 0.3), (252, 0.6), (252, -0.7), (253, -0.1), (253, 0.4), (254, 0.9), (254, 0.2), (255, 0.4), (255, -0.3), (256, 1.1),
           (256, 0.0), (257, 0.6), (257, -0.5), (258, 0.2), (258, 0.8), (259, 0.3), (259, -0.3), (260, 0.5), (260, -0.8), (261, 1.0),
           (261, 0.1), (262, 0.3), (262, -0.4), (263, 0.6), (264, 0.0), (264, -0.5), (265, 0.4), (265, -0.9), (266, 0.2), (266, -0.2),
           (267, 1.3), (267, 0.7), (267, -0.6), (268, 2.87), (268, 2.05), (268, 1.95), (268, 0.3), (268, -0.1), (268, -0.4), (269, 0.5),
           (269, -0.3), (269, 0.1), (270, 0.0), (270, -0.8), (270, -0.2), (271, 0.3), (271, -0.6), (271, -0.95), (272, 0.9), (272, -0.3),
           (273, -0.4), (273, -0.9),
           (247, -0.3), (250, 0.4), (253, -0.5), (255, 0.7), (256, -0.6), (257, 0.1), (258, -0.2), (259, 0.8), (260, 0.0), (261, -0.4),
           (262, 0.7), (263, -0.2), (264, 0.5), (265, -0.4), (266, 0.6), (267, 0.2), (268, 0.7), (268, 1.1), (269, -0.7), (270, 0.6),
           (271, 0.0), (272, -0.6), (273, -0.1)]

# alert level bar
alert_labels = ['III', 'II', 'III']
alert_start = [0, 50, 144]
alert_end = [50, 144, 278.5]
alert_colors = ['#f8f000', '#f5a000', '#f8f000']

# ---------------------------------------------------------------- figure
W, H = 853, 1068
fig = plt.figure(figsize=(W / 100, H / 100), dpi=100)
XMIN, XMAX = -2.44, 277.8
L, R = 95, 784
VT_C, LP_C = type_colors[0], type_colors[1]


def px_axes(l, t, r, b):
    return fig.add_axes([l / W, 1 - b / H, (r - l) / W, (b - t) / H])


def style(ax, ylim, yticks, ylabels, grid=True):
    ax.set_xlim(XMIN, XMAX)
    ax.set_ylim(*ylim)
    ax.set_yticks(yticks)
    ax.set_yticklabels(ylabels, family=NARROW)
    ax.tick_params(axis='y', length=0, labelsize=8, labelcolor='#666666', pad=9)
    ax.set_xticks([])
    if grid:
        ax.grid(axis='y', color='#e3e3e3', lw=1)
    ax.set_axisbelow(True)
    for s in ax.spines.values():
        s.set_color('#3c3c3c')
        s.set_linewidth(1.4)


def ylabel(ax, text, x, y, rot=90):
    ax.set_ylabel(text, fontsize=11.5, color='#222222', rotation=rot)
    ax.yaxis.set_label_coords(x, y)
    ax.yaxis.label.set_va('center')
    ax.yaxis.label.set_ha('center')


days = np.arange(len(lp_counts))

ax_a = px_axes(L, 36, R, 183)
ax_b = px_axes(L, 219, R, 398)
ax_c = px_axes(L, 429, R, 608)
ax_d = px_axes(L, 640, R, 783)
ax_e = px_axes(L, 817, R, 1015)

# (a)
style(ax_a, (0, 1500), [0, 500, 1000, 1500], ['0', '500', '1000', '1500'])
ax_a.bar(days, lp_counts, width=0.68, color=LP_C, lw=0, zorder=2)
ax_a.bar(hb_days, hb_counts, width=0.6, color=type_colors[2], lw=0, zorder=3)
ax_a.bar(days, tr_counts, width=0.6, color=type_colors[4], lw=0, zorder=4)
ax_a.bar(vt_days, vt_counts, width=0.8, color=VT_C, lw=0, zorder=5)
ax_a.bar(bf_days, bf_counts, width=0.6, color=type_colors[5], lw=0, zorder=6)
ax_a.xaxis.tick_top()
ax_a.set_xticks(month_ticks)
ax_a.set_xticklabels(month_labels, family=NARROW)
ax_a.tick_params(axis='x', top=True, bottom=False, length=9, width=1, color='#9a9a9a',
                 labelsize=9, labelcolor='#333333', pad=2)
ylabel(ax_a, 'Número Eventos', -0.087, 0.64)

# (b)
ax_b2 = ax_b.twinx()
style(ax_b2, (0, 600), [0, 200, 400, 600], ['0', '200T', '400T', '600T'])
style(ax_b, (0, 360), [0, 120, 240, 360], ['0', '120T', '240T', '360T'], grid=False)
ax_b.set_zorder(ax_b2.get_zorder() + 1)
ax_b.patch.set_visible(False)
ax_b2.plot(days, lp_energy, color=LP_C, lw=1.7)
ax_b.plot(days, vt_energy, color=VT_C, lw=1.6)
ylabel(ax_b, 'VT (Ergios)', -0.094, 0.50)
ylabel(ax_b2, 'LP (Ergios)', 1.078, 0.56, rot=270)

# (c)
ax_c2 = ax_c.twinx()
style(ax_c2, (0, 18), [0, 6, 12, 18], ['0', '6P', '12P', '18P'])
style(ax_c, (0, 2400), [0, 800, 1600, 2400], ['0', '800T', '1,600T', '2,400T'], grid=False)
ax_c.set_zorder(ax_c2.get_zorder() + 1)
ax_c.patch.set_visible(False)
ax_c2.plot(cum_lp_days, cum_lp_P, color=LP_C, lw=1.6)
ax_c.plot(cum_vt_days, cum_vt_T, color=VT_C, lw=1.6)
ylabel(ax_c, 'VT (Ergios)', -0.094, 0.48)
ylabel(ax_c2, 'LP (Ergios)', 1.078, 0.46, rot=270)

# (d)
style(ax_d, (0, 8), [0, 2, 4, 6, 8], ['0', '2', '4', '6', '8'])
for pts, col in [(dr_lp + dr_lp_base, type_colors[1]), (dr_to, type_colors[3]),
                 (dr_tr + dr_tr_base, type_colors[4]), (dr_bf + dr_bf_base, type_colors[5])]:
    xs, ys = zip(*pts)
    ax_d.scatter(xs, ys, s=8, color=col, lw=0, zorder=3)
ylabel(ax_d, 'Desp. Reducido', -0.080, 0.66)

# (e)
style(ax_e, (-2, 4), [-2, 0, 2, 4], ['-2', '0', '2', '4'])
mags = mag_jan + mag_feb + mag_mar + mag_apr + mag_may + mag_jun + mag_jul + mag_aug + mag_sep
xs, ys = zip(*mags)
ax_e.scatter(xs, ys, s=12, color='#ee1010', lw=0, zorder=3)
ax_e.set_xticks(month_ticks)
ax_e.set_xticklabels(month_labels, family=NARROW)
ax_e.tick_params(axis='x', bottom=True, length=7, width=1, color='#9a9a9a',
                 labelsize=9, labelcolor='#333333', pad=6)
ylabel(ax_e, 'Magnitud VT', -0.070, 0.47)

# titles
for ax, txt in [(ax_a, 'Número de eventos volcán Puracé'),
                (ax_b, 'Energía liberada (diaria) volcán Puracé'),
                (ax_c, 'Energía liberada (acumulado) volcán Puracé'),
                (ax_d, 'Desp. Reducido volcán Puracé'),
                (ax_e, 'Magnitudes locales volcán Puracé')]:
    top = ax.get_position().y1
    fig.text(421 / W, top + 1.5 / H, txt, ha='center', va='baseline', fontsize=9,
             fontweight='bold', color='#333333', family=NARROW)

for lab, y in [('(a)', 27), ('(b)', 209), ('(c)', 420), ('(d)', 632), ('(e)', 810)]:
    fig.text(796 / W, 1 - y / H, lab, ha='center', va='center', fontsize=10, color='#333333')

# legends
fig.legend(handles=[Line2D([], [], ls='', marker='o', ms=8.5, color=c, label=n)
                    for n, c in zip(type_names, type_colors)],
           loc='center left', bbox_to_anchor=(98 / W, 1 - 192 / H), ncol=6, frameon=False,
           fontsize=9.5, handlelength=0.9, handletextpad=0.4, columnspacing=2.63,
           borderpad=0, borderaxespad=0, labelcolor='#333333')
for y in (406, 616):
    fig.legend(handles=[Line2D([], [], color=VT_C, lw=2, label='VT'),
                        Line2D([], [], color=LP_C, lw=2, label='LP')],
               loc='center left', bbox_to_anchor=(99 / W, 1 - y / H), ncol=2, frameon=False,
               fontsize=9.5, handlelength=1.3, handletextpad=0.4, columnspacing=2.3,
               borderpad=0, borderaxespad=0, labelcolor='#444444')
fig.legend(handles=[Line2D([], [], ls='', marker='o', ms=3, color=c, label='Desp. Reducido ' + n)
                    for n, c in zip(['LP', 'TO', 'TR', 'BF'],
                                    [type_colors[1], type_colors[3], type_colors[4], type_colors[5]])],
           loc='center left', bbox_to_anchor=(100 / W, 1 - 790 / H), ncol=4, frameon=False,
           fontsize=9.5, handlelength=1.0, handletextpad=0.6, columnspacing=3.4,
           borderpad=0, borderaxespad=0, labelcolor='#555555')

# alert level bar
ax_al = px_axes(L, 1051, R, 1068)
ax_al.set_xlim(XMIN, XMAX)
ax_al.set_ylim(-0.5, 0.5)
ax_al.barh([0] * 3, [e - s for s, e in zip(alert_start, alert_end)], left=alert_start,
           height=1, color=alert_colors, lw=0, clip_on=False)
for s, e, lab in zip(alert_start, alert_end, alert_labels):
    ax_al.text((s + e) / 2, 0, lab, ha='center', va='center', fontsize=7, fontweight='bold',
               color='#555555')
ax_al.axis('off')

# evaluated period shading
fig.canvas.draw()
x0 = fig.transFigure.inverted().transform(ax_a.transData.transform((period_start, 0)))[0]
x1 = ax_a.get_position().x1
y_top = ax_a.get_position().y1
y_bot = ax_e.get_position().y0
fig.add_artist(Rectangle((x0, y_bot), x1 - x0, y_top - y_bot, transform=fig.transFigure,
                         facecolor='#9d9d9d', alpha=0.36, lw=0, zorder=10))
for txt, y in [('Periodo', 49), ('Evaluado', 70)]:
    fig.text(x0 + 5 / W, 1 - y / H, txt, ha='left', va='center', fontsize=10.8,
             fontweight='bold', color='#575757', family=['Open Sans', 'DejaVu Sans'], zorder=11)

fig.savefig('out.png', dpi=100)
